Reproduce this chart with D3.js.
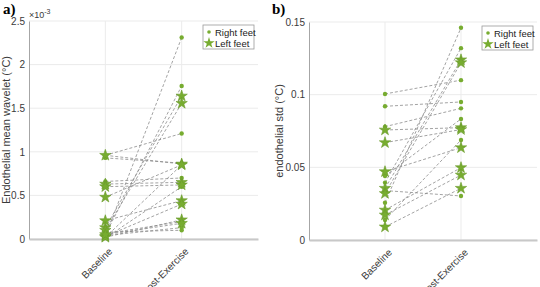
<!DOCTYPE html>
<html>
<head>
<meta charset="utf-8">
<script src="https://cdn.jsdelivr.net/npm/d3@7"></script>
<style>
  body { margin: 0; background: #fff; }
</style>
</head>
<body>
<div id="chart"></div>
<script>
// categories on the x axis
var categories = ["Baseline", "Post-Exercise"];

// panel a) endothelial mean wavelet, values in 1e-3 °C
var aTicks = [0, 0.5, 1, 1.5, 2, 2.5];
var aRightBase = [0.93, 0.96, 0.66, 0.03, 0.05, 0.02, 0.01, 0.04, 0.08, 0.06];
var aRightPost = [0.87, 1.21, 0.70, 2.31, 1.755, 0.85, 0.60, 0.13, 0.10, 0.20];
var aLeftBase  = [0.96, 0.63, 0.60, 0.48, 0.21, 0.13, 0.10, 0.03, 0.02, 0.05];
var aLeftPost  = [0.86, 0.65, 0.62, 0.85, 0.44, 1.64, 1.556, 0.40, 0.22, 0.18];

// panel b) endothelial std, °C
var bTicks = [0, 0.05, 0.1, 0.15];
var bRightBase = [0.1005, 0.092, 0.078, 0.0395, 0.0257, 0.0138, 0.034, 0.044];
var bRightPost = [0.110, 0.095, 0.0906, 0.132, 0.146, 0.0688, 0.0303, 0.0833];
var bLeftBase  = [0.0757, 0.067, 0.047, 0.0356, 0.032, 0.0206, 0.0172, 0.009];
var bLeftPost  = [0.0773, 0.076, 0.0635, 0.124, 0.122, 0.0498, 0.0447, 0.0356];

var green = "#77ac30";

var svg = d3.select("#chart")
    .append("svg")
    .attr("width", 540)
    .attr("height", 287)
    .attr("font-family", "Liberation Sans, Arial, Helvetica, sans-serif");

function panel(o) {
  var g = svg.append("g")
      .attr("transform", "translate(" + o.left + "," + o.top + ")");

  var x = d3.scaleLinear().domain([0, 3]).range([0, o.width]);
  var y = d3.scaleLinear().domain([0, o.ymax]).range([o.height, 0]);

  // grid
  g.selectAll(".hgrid")
      .data(o.ticks)
      .enter().append("line")
      .attr("x1", 0).attr("x2", o.width)
      .attr("y1", function(d) { return y(d); })
      .attr("y2", function(d) { return y(d); })
      .attr("stroke", "#ebebeb").attr("stroke-width", 1);
  g.selectAll(".vgrid")
      .data([1, 2])
      .enter().append("line")
      .attr("x1", function(d) { return x(d); })
      .attr("x2", function(d) { return x(d); })
      .attr("y1", 0).attr("y2", o.height)
      .attr("stroke", "#ebebeb").attr("stroke-width", 1);

  // y axis
  var yAxis = g.append("g")
      .call(d3.axisLeft(y).tickValues(o.ticks).tickSize(0).tickPadding(4)
        .tickFormat(function(d) { return d3.format("~g")(d); }));
  yAxis.attr("font-family", null);
  yAxis.select(".domain").attr("stroke", "#a6a6a6");
  yAxis.selectAll("text").attr("font-size", 10).attr("fill", "#3a3a3a");

  // x axis
  var xAxis = g.append("g")
      .attr("transform", "translate(0," + o.height + ")")
      .call(d3.axisBottom(x).tickValues([1, 2]).tickSize(0)
        .tickFormat(function(d) { return categories[d - 1]; }));
  xAxis.attr("font-family", null);
  xAxis.select(".domain").attr("stroke", "#c8c8c8").attr("stroke-width", 2);
  xAxis.selectAll("text")
      .attr("font-size", 10).attr("fill", "#3a3a3a")
      .attr("text-anchor", "end")
      .attr("dx", 0).attr("dy", 0)
      .attr("transform", "translate(5,11) rotate(-45)");

  // y label
  g.append("text")
      .attr("transform", "rotate(-90)")
      .attr("x", -o.height / 2)
      .attr("y", o.ylabelX)
      .attr("text-anchor", "middle")
      .attr("font-size", 11)
      .attr("fill", "#3a3a3a")
      .text(o.ylabel);

  // dashed lines between baseline and post
  var pairs = [];
  o.rb.forEach(function(v, i) { pairs.push([v, o.rp[i]]); });
  o.lb.forEach(function(v, i) { pairs.push([v, o.lp[i]]); });
  g.selectAll(".pair")
      .data(pairs)
      .enter().append("line")
      .attr("x1", x(1)).attr("x2", x(2))
      .attr("y1", function(d) { return y(d[0]); })
      .attr("y2", function(d) { return y(d[1]); })
      .attr("stroke", "#8c8c8c")
      .attr("stroke-width", 0.8)
      .attr("stroke-dasharray", "3,2");

  // right feet: dots
  var dots = [];
  o.rb.forEach(function(v) { dots.push([1, v]); });
  o.rp.forEach(function(v) { dots.push([2, v]); });
  g.selectAll(".dot")
      .data(dots)
      .enter().append("circle")
      .attr("cx", function(d) { return x(d[0]); })
      .attr("cy", function(d) { return y(d[1]); })
      .attr("r", 2.2)
      .attr("fill", green);

  // left feet: stars
  var star = d3.symbol().type(d3.symbolStar).size(40);
  var stars = [];
  o.lb.forEach(function(v) { stars.push([1, v]); });
  o.lp.forEach(function(v) { stars.push([2, v]); });
  g.selectAll(".star")
      .data(stars)
      .enter().append("path")
      .attr("d", star)
      .attr("transform", function(d) { return "translate(" + x(d[0]) + "," + y(d[1]) + ")"; })
      .attr("fill", green)
      .attr("stroke", "#6a9a2a")
      .attr("stroke-width", 0.6);

  // legend
  var lg = g.append("g")
      .attr("transform", "translate(" + (o.width - 55) + ",4)");
  lg.append("rect")
      .attr("width", 51).attr("height", 24)
      .attr("fill", "#fff").attr("stroke", "#9a9a9a").attr("stroke-width", 0.8);
  lg.append("circle").attr("cx", 6).attr("cy", 7).attr("r", 1.8).attr("fill", green);
  lg.append("path").attr("d", star).attr("transform", "translate(6,18)").attr("fill", green);
  lg.append("text").attr("x", 12).attr("y", 10.5).attr("font-size", 9.5).attr("fill", "#222").text("Right feet");
  lg.append("text").attr("x", 12).attr("y", 21.5).attr("font-size", 9.5).attr("fill", "#222").text("Left feet");

  // panel letter
  svg.append("text")
      .attr("x", o.letterX).attr("y", 14)
      .style("font-family", "'Liberation Serif', 'DejaVu Serif', serif")
      .style("font-size", "15px").style("font-weight", "bold")
      .text(o.letter);

  return g;
}

var ga = panel({left: 29, top: 21, width: 229, height: 218, ymax: 2.5, ticks: aTicks,
  rb: aRightBase, rp: aRightPost, lb: aLeftBase, lp: aLeftPost,
  ylabel: "Endothelial mean wavelet (\u00b0C)", ylabelX: -19, letter: "a)", letterX: 3});

// exponent label
var ex = ga.append("text").attr("x", 0).attr("y", -3)
    .attr("font-size", 9).attr("fill", "#3a3a3a");
ex.append("tspan").text("\u00d710");
ex.append("tspan").attr("dy", -4).attr("font-size", 7).text("-3");

panel({left: 309, top: 22, width: 228, height: 218, ymax: 0.15, ticks: bTicks,
  rb: bRightBase, rp: bRightPost, lb: bLeftBase, lp: bLeftPost,
  ylabel: "endothelial std (\u00b0C)", ylabelX: -26, letter: "b)", letterX: 272});
</script>
</body>
</html>
